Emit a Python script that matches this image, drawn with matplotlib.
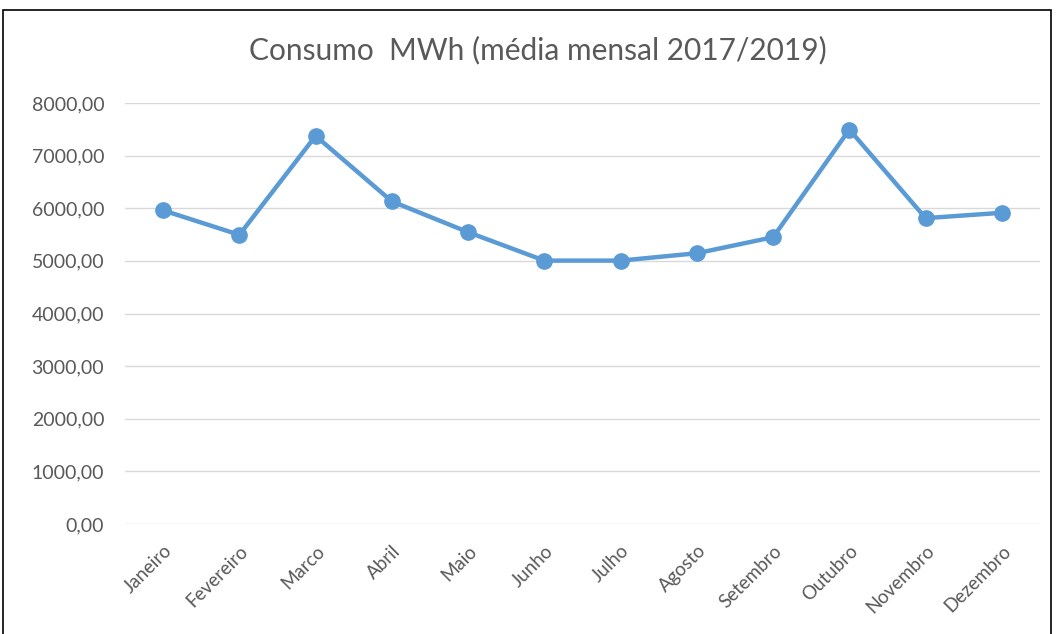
import matplotlib.pyplot as plt
from matplotlib.patches import Rectangle

# monthly average consumption (MWh)
meses = ['Janeiro', 'Fevereiro', 'Marco', 'Abril', 'Maio', 'Junho',
         'Julho', 'Agosto', 'Setembro', 'Outubro', 'Novembro', 'Dezembro']
consumo = [5960, 5495, 7375, 6130, 5545, 5005,
           5005, 5145, 5450, 7495, 5812, 5914]
yticks = [0, 1000, 2000, 3000, 4000, 5000, 6000, 7000, 8000]

plt.rcParams['font.family'] = ['Lato', 'DejaVu Sans']
grey = '#595959'
blue = '#5B9BD5'

fig = plt.figure(figsize=(10.56, 6.34), dpi=100)
W, H = 1056, 634
# axes box in pixels: x 125..1040, y 103..524 (from top)
ax = fig.add_axes([125 / W, 1 - 524 / H, (1040 - 125) / W, (524 - 103) / H])

x = list(range(len(meses)))
ax.plot(x, consumo, color=blue, linewidth=3.2, marker='o', markersize=11,
        solid_capstyle='round', zorder=3)

ax.set_xlim(-0.5, len(meses) - 0.5)
ax.set_ylim(0, 8000)
ax.set_yticks(yticks)
ax.set_yticklabels([f'{v:.2f}'.replace('.', ',') for v in yticks],
                   fontsize=14, color=grey)
ax.set_xticks(x)
ax.set_xticklabels(meses, rotation=45, ha='right', rotation_mode='anchor',
                   fontsize=13.5, color=grey)
ax.tick_params(axis='both', length=0)
ax.tick_params(axis='y', pad=15)
ax.tick_params(axis='x', pad=13)
ax.grid(axis='y', color='#D9D9D9', linewidth=1)
ax.set_axisbelow(True)
for s in ax.spines.values():
    s.set_visible(False)

fig.text(538 / W, 1 - 50 / H, 'Consumo  MWh (média mensal 2017/2019)',
         ha='center', va='center', fontsize=21.5, color=grey)

# outer chart border
fig.patches.append(Rectangle((3 / W, -0.05), (1051 - 3) / W, 1.05 - 10 / H,
                             transform=fig.transFigure, fill=False,
                             edgecolor='black', linewidth=1.2))

fig.savefig('out.png', dpi=100)
